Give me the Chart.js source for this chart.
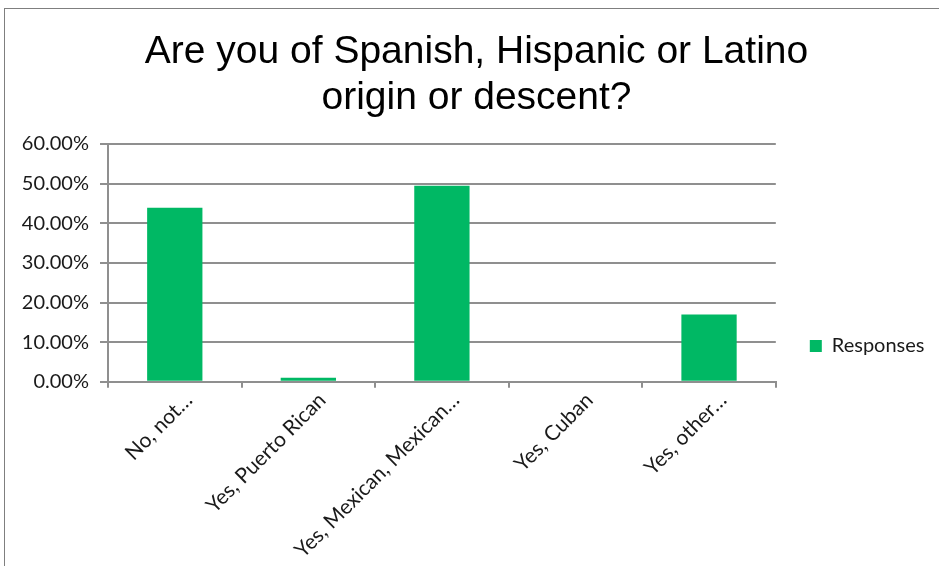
<!DOCTYPE html>
<html>
<head>
<meta charset="utf-8">
<script src="https://cdn.jsdelivr.net/npm/chart.js@4/dist/chart.umd.min.js"></script>
<style>
  html, body { margin: 0; padding: 0; background: #fff; overflow: hidden; }
  #frame {
    position: absolute; left: 4px; top: 8px; width: 1000px; height: 700px;
    border-left: 1px solid #7f7f7f; border-top: 1px solid #7f7f7f;
  }
  #chart { position: absolute; left: 5px; top: 9px; }
</style>
</head>
<body>
<div id="frame"></div>
<canvas id="chart" width="934" height="557"></canvas>
<script>
const categories = ['No, not…', 'Yes, Puerto Rican', 'Yes, Mexican, Mexican…', 'Yes, Cuban', 'Yes, other…'];
const responses = [43.9, 1.0, 49.5, 0, 17.0];
const yTicks = [0, 10, 20, 30, 40, 50, 60];
const titleLines = ['Are you of Spanish, Hispanic or Latino', 'origin or descent?'];
const seriesName = 'Responses';

const gridColor = '#8f8f8f';
const textColor = '#1a1a1a';

const ctx = document.getElementById('chart').getContext('2d');

window.myChart = new Chart(ctx, {
  type: 'bar',
  data: {
    labels: categories,
    datasets: [
      {
        label: seriesName,
        data: responses,
        backgroundColor: '#00b864',
        borderWidth: 0,
        categoryPercentage: 1,
        barPercentage: 0.414
      }
    ]
  },
  options: {
    responsive: false,
    devicePixelRatio: 1,
    animation: false,
    layout: {
      padding: { left: 13.5, right: 4.5, top: 0, bottom: 3 }
    },
    plugins: {
      title: {
        display: true,
        text: titleLines,
        color: '#000',
        font: { family: 'Liberation Sans', size: 39, weight: 'normal', lineHeight: 1.18 },
        padding: { top: 20, bottom: 23 }
      },
      legend: {
        position: 'right',
        fullSize: false,
        align: 'start',
        title: {
          display: true,
          text: '',
          font: { size: 1, lineHeight: 1 },
          padding: { top: 157, bottom: 0 }
        },
        labels: {
          boxWidth: 12,
          boxHeight: 12,
          padding: 34,
          color: textColor,
          font: { family: 'Lato', size: 20 }
        }
      },
      tooltip: { enabled: false }
    },
    scales: {
      x: {
        grid: {
          display: true,
          drawOnChartArea: false,
          drawTicks: true,
          tickLength: 6,
          color: gridColor,
          lineWidth: 2,
          offset: true
        },
        border: { display: true, color: gridColor, width: 2 },
        ticks: {
          color: textColor,
          font: { family: 'Lato', size: 21 },
          maxRotation: 45,
          minRotation: 45,
          autoSkip: false,
          padding: 0,
          labelOffset: 14
        }
      },
      y: {
        min: 0,
        max: 60,
        afterBuildTicks: axis => {
          axis.ticks = yTicks.map(v => ({ value: v }));
        },
        afterFit: axis => {
          axis.width = 89.5;
        },
        grid: {
          color: gridColor,
          lineWidth: 2,
          drawTicks: true,
          tickLength: 8
        },
        border: { display: true, color: gridColor, width: 2 },
        ticks: {
          color: textColor,
          font: { family: 'Lato', size: 20 },
          padding: 11,
          callback: v => v.toFixed(2) + '%'
        }
      }
    }
  }
});
</script>
</body>
</html>
